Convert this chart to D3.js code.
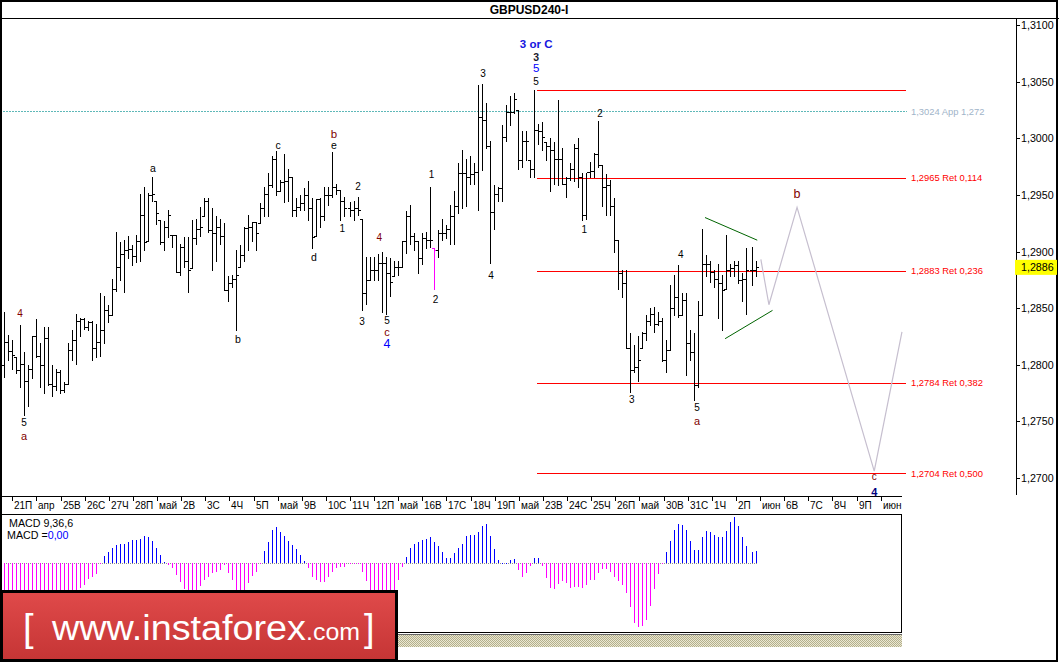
<!DOCTYPE html>
<html>
<head>
<meta charset="utf-8">
<script src="https://cdnjs.cloudflare.com/ajax/libs/d3/7.8.5/d3.min.js"></script>
<style>
  body { margin: 0; background: #fff; }
  text { font-family: "Liberation Sans", Arial, sans-serif; }
</style>
</head>
<body>
<div id="chart"></div>
<script>
'use strict';

// GBPUSD H4 bars (high / low / close), open = previous close
var highs = [
  1.2847,1.2826,1.2822,1.2807,1.2835,1.2811,1.2800,1.2825,1.2840,1.2819,
  1.2833,1.2833,1.2800,1.2796,1.2795,1.2785,1.2819,1.2831,1.2845,1.2841,
  1.2841,1.2839,1.2839,1.2836,1.2863,1.2861,1.2853,1.2876,1.2917,1.2908,
  1.2910,1.2914,1.2906,1.2915,1.2951,1.2957,1.2952,1.2966,1.2945,1.2928,
  1.2927,1.2937,1.2915,1.2915,1.2907,1.2913,1.2913,1.2928,1.2929,1.2939,
  1.2947,1.2947,1.2938,1.2931,1.2929,1.2925,1.2878,1.2879,1.2901,1.2906,
  1.2922,1.2932,1.2926,1.2926,1.2943,1.2957,1.2969,1.2984,1.2989,1.2963,
  1.2986,1.2973,1.2966,1.2947,1.2950,1.2956,1.2962,1.2947,1.2946,1.2947,
  1.2957,1.2957,1.2988,1.2960,1.2954,1.2948,1.2944,1.2945,1.2948,1.2929,
  1.2895,1.2895,1.2895,1.2898,1.2900,1.2895,1.2894,1.2892,1.2892,1.2909,
  1.2936,1.2941,1.2916,1.2909,1.2916,1.2917,1.2957,1.2903,1.2919,1.2929,
  1.2923,1.2941,1.2953,1.2978,1.2990,1.2982,1.2984,1.2978,1.3047,1.3048,
  1.3031,1.2998,1.2959,1.2957,1.3012,1.3029,1.3037,1.3040,1.3025,1.3006,
  1.3006,1.2981,1.3043,1.3013,1.3014,1.2997,1.3000,1.2997,1.3034,1.2991,
  1.2966,1.2978,1.2995,1.3000,1.2969,1.2969,1.2979,1.2987,1.3015,1.2976,
  1.2968,1.2963,1.2947,1.2910,1.2884,1.2884,1.2828,1.2817,1.2825,1.2829,
  1.2844,1.2850,1.2851,1.2847,1.2841,1.2822,1.2870,1.2879,1.2888,1.2863,
  1.2863,1.2831,1.2828,1.2856,1.2920,1.2897,1.2892,1.2884,1.2889,1.2879,
  1.2915,1.2889,1.2892,1.2892,1.2881,1.2903,1.2904,1.2892
];
var lows = [
  1.2789,1.2804,1.2796,1.2793,1.2780,1.2756,1.2764,1.2788,1.2807,1.2780,
  1.2775,1.2782,1.2772,1.2778,1.2775,1.2776,1.2783,1.2804,1.2801,1.2825,
  1.2832,1.2831,1.2804,1.2807,1.2808,1.2819,1.2838,1.2844,1.2865,1.2875,
  1.2864,1.2894,1.2888,1.2891,1.2892,1.2901,1.2909,1.2945,1.2924,1.2907,
  1.2901,1.2913,1.2904,1.2882,1.2879,1.2886,1.2864,1.2885,1.2907,1.2914,
  1.2931,1.2917,1.2884,1.2892,1.2907,1.2866,1.2856,1.2869,1.2831,1.2886,
  1.2892,1.2901,1.2909,1.2901,1.2925,1.2931,1.2931,1.2957,1.2950,1.2953,
  1.2944,1.2945,1.2931,1.2931,1.2937,1.2937,1.2928,1.2903,1.2914,1.2922,
  1.2928,1.2941,1.2948,1.2951,1.2928,1.2931,1.2931,1.2928,1.2932,1.2848,
  1.2854,1.2875,1.2875,1.2875,1.2847,1.2845,1.2861,1.2878,1.2879,1.2886,
  1.2899,1.2907,1.2901,1.2881,1.2889,1.2903,1.2904,1.2867,1.2895,1.2910,
  1.2912,1.2907,1.2907,1.2934,1.2938,1.2940,1.2960,1.2960,1.2937,1.2972,
  1.2991,1.2890,1.2920,1.2945,1.2945,1.2998,1.3012,1.3022,1.2973,1.2975,
  1.2981,1.2966,1.2966,1.2995,1.2990,1.2981,1.2953,1.2960,1.2959,1.2960,
  1.2948,1.2963,1.2962,1.2957,1.2928,1.2929,1.2966,1.2966,1.2975,1.2940,
  1.2932,1.2932,1.2900,1.2867,1.2860,1.2815,1.2776,1.2794,1.2786,1.2815,
  1.2822,1.2835,1.2829,1.2835,1.2803,1.2794,1.2813,1.2844,1.2842,1.2844,
  1.2791,1.2804,1.2769,1.2780,1.2844,1.2878,1.2873,1.2869,1.2841,1.2831,
  1.2867,1.2878,1.2878,1.2872,1.2856,1.2845,1.2870,1.2878
];
var closes = [
  1.2820,1.2812,1.2809,1.2795,1.2801,1.2786,1.2796,1.2825,1.2808,1.2800,
  1.2824,1.2783,1.2781,1.2794,1.2778,1.2783,1.2813,1.2822,1.2839,1.2840,
  1.2833,1.2838,1.2815,1.2820,1.2831,1.2848,1.2844,1.2867,1.2886,1.2898,
  1.2901,1.2902,1.2896,1.2909,1.2932,1.2908,1.2950,1.2951,1.2934,1.2908,
  1.2922,1.2932,1.2915,1.2882,1.2904,1.2892,1.2884,1.2912,1.2920,1.2922,
  1.2945,1.2919,1.2916,1.2922,1.2914,1.2866,1.2872,1.2876,1.2879,1.2897,
  1.2921,1.2922,1.2926,1.2916,1.2938,1.2951,1.2959,1.2982,1.2953,1.2961,
  1.2962,1.2966,1.2937,1.2939,1.2943,1.2950,1.2938,1.2913,1.2946,1.2931,
  1.2950,1.2950,1.2957,1.2954,1.2945,1.2938,1.2937,1.2938,1.2937,1.2863,
  1.2875,1.2884,1.2884,1.2890,1.2890,1.2881,1.2873,1.2886,1.2886,1.2909,
  1.2931,1.2914,1.2909,1.2894,1.2912,1.2910,1.2910,1.2901,1.2916,1.2916,
  1.2920,1.2931,1.2940,1.2969,1.2969,1.2966,1.2968,1.2970,1.3019,1.3016,
  1.2993,1.2935,1.2951,1.2956,1.3001,1.3023,1.3023,1.3035,1.2981,1.2998,
  1.2998,1.2973,1.3007,1.3006,1.3001,1.2993,1.2990,1.2982,1.2982,1.2960,
  1.2965,1.2973,1.2991,1.2966,1.2932,1.2970,1.2971,1.2986,1.2976,1.2957,
  1.2959,1.2940,1.2910,1.2881,1.2872,1.2815,1.2795,1.2798,1.2804,1.2828,
  1.2839,1.2845,1.2836,1.2839,1.2804,1.2813,1.2850,1.2860,1.2844,1.2857,
  1.2819,1.2811,1.2782,1.2844,1.2889,1.2889,1.2882,1.2876,1.2872,1.2866,
  1.2884,1.2885,1.2888,1.2875,1.2876,1.2884,1.2884,1.2886
];
var firstOpen = 1.2800;
var markedBar = 107;

// MACD(9,36,6) histogram, pips
var macd = [
  -17,-16.5,-17,-17.5,-18,-18.5,-19,-19,-18.5,-18,-17.5,-17,-16.5,-16.5,-16,-15.5,-15,-14.5,-14,
  -13,-11.2,-8.3,-7.3,-5.6,-0.3,
  3.6,5.9,7.5,9.2,10,10,10.8,11.7,11.7,12.5,13.7,13.4,11.2,8,4,0.7,
  -0.8,-2.7,-6.3,-10,-13.4,-14.5,-15,-14.5,-12,-8.6,-7.3,-5.3,-4.4,-3.6,-1,
  -5.3,-8.6,-13.7,-15,-15,-10.3,-6.9,-4.4,-0.3,
  6.3,10.8,17,18.4,15.9,13.7,11.4,9.2,7,4,1.2,
  -2.7,-7.3,-9,-10,-10,-7.3,-4.4,-2.7,-1.9,-1.9,-0.2,-0.2,-0.2,
  -4.4,-9.5,-13.7,-15,-15.5,-15.5,-15,-14.5,-14,-8.6,-2.2,
  3.2,7.5,9.7,10.8,11.7,12.5,13.4,10.8,8.6,5.8,2.4,2.4,5.3,8,10,13.7,14.7,14.7,15.9,19.3,
  20.1,14.2,7,1.5,0.2,0.2,1.5,2.2,-3.6,
  -7,-5,-1.6,2.4,2.4,-1.6,-7.9,-12.7,-13.4,-10.9,-9.3,-10.2,-12.7,-12.6,-12.2,-12.7,-11.4,-8.8,
  -8.8,-5,-3.1,-3.1,-4.5,-7,-9.1,-11.4,-15.3,-22.5,-30.8,-33.2,-32.5,-29.4,-22.2,-13.6,-5.7,-0.5,
  5.7,11.4,17,20.1,19.6,17,11.4,6.7,6.7,13.3,16.5,15.8,14.5,13.3,13.3,16.5,21.2,23.6,19.1,13.4,
  8.8,5.7,6.2
];

var dayLabels = ["21П","апр","25В","26С","27Ч","28П","май","2В","3С","4Ч","5П","май","9В",
  "10С","11Ч","12П","май","16В","17С","18Ч","19П","май","23В","24С","25Ч","26П","май",
  "30В","31С","1Ч","2П","июн","6В","7С","8Ч","9П","июн"];
var priceTicks = [1.2700,1.2750,1.2800,1.2850,1.2900,1.2950,1.3000,1.3050,1.3100];
var lastPrice = 1.2886;

var fibLevels = [1.3043, 1.2965, 1.2883, 1.2784, 1.2704];
var fibTexts = ["", "1,2965 Ret 0,114", "1,2883 Ret 0,236", "1,2784 Ret 0,382", "1,2704 Ret 0,500"];
var appLevel = 1.3024;
var appText = "1,3024 App 1,272";
var fibFrom = 132.5, fibTo = 224.3;

// forecast zigzag and triangle
var pathBars = [188.2, 190.2, 197.2, 216.4, 223.3];
var pathPrices = [1.2893, 1.2853, 1.2939, 1.2706, 1.2829];
var triTopBars = [174.3, 187.3], triTopPrices = [1.2930, 1.2910];
var triLowBars = [179.3, 191.1], triLowPrices = [1.2823, 1.2848];

var waveLabels = [
  {i: 3.9, p: 1.2845, t: "4", c: "#800000", s: 10},
  {i: 4.9, p: 1.2749, t: "5", c: "#000", s: 10},
  {i: 4.9, p: 1.2737, t: "a", c: "#800000", s: 11},
  {i: 37.0, p: 1.2974, t: "a", c: "#000", s: 10.5},
  {i: 58.1, p: 1.2823, t: "b", c: "#000", s: 10.5},
  {i: 68.1, p: 1.2994, t: "c", c: "#000", s: 10.5},
  {i: 77.0, p: 1.2895, t: "d", c: "#000", s: 10.5},
  {i: 82.0, p: 1.3004, t: "b", c: "#800000", s: 11.5},
  {i: 82.0, p: 1.2994, t: "e", c: "#000", s: 10.5},
  {i: 84.1, p: 1.2920, t: "1", c: "#000", s: 10},
  {i: 88.0, p: 1.2957, t: "2", c: "#000", s: 10},
  {i: 89.0, p: 1.2838, t: "3", c: "#000", s: 10},
  {i: 93.3, p: 1.2912, t: "4", c: "#800000", s: 10},
  {i: 95.2, p: 1.2839, t: "5", c: "#000", s: 10},
  {i: 95.2, p: 1.2829, t: "c", c: "#800000", s: 11},
  {i: 95.2, p: 1.2818, t: "4", c: "#0000ff", s: 12.5},
  {i: 106.3, p: 1.2968, t: "1", c: "#000", s: 10},
  {i: 107.3, p: 1.2858, t: "2", c: "#000", s: 10},
  {i: 119.1, p: 1.3057, t: "3", c: "#000", s: 10},
  {i: 121.1, p: 1.2879, t: "4", c: "#000", s: 10},
  {i: 132.3, p: 1.3083, t: "3 or C", c: "#1515e0", s: 11.5, b: true},
  {i: 132.3, p: 1.3072, t: "3", c: "#1a1a2e", s: 10.5, b: true},
  {i: 132.3, p: 1.3062, t: "5", c: "#0000ff", s: 11.5},
  {i: 132.3, p: 1.3050, t: "5", c: "#000", s: 10},
  {i: 144.3, p: 1.2919, t: "1", c: "#000", s: 10},
  {i: 148.2, p: 1.3022, t: "2", c: "#000", s: 10},
  {i: 156.1, p: 1.2769, t: "3", c: "#000", s: 10},
  {i: 168.3, p: 1.2897, t: "4", c: "#000", s: 10},
  {i: 172.3, p: 1.2762, t: "5", c: "#000", s: 10},
  {i: 172.3, p: 1.2750, t: "a", c: "#800000", s: 11},
  {i: 197.2, p: 1.2951, t: "b", c: "#800000", s: 12.5},
  {i: 216.4, p: 1.2701, t: "c", c: "#800000", s: 10},
  {i: 216.4, p: 1.2688, t: "4", c: "#000080", s: 11, b: true}
];

var W = 1059, H = 662;
var svg = d3.select("#chart").append("svg")
  .attr("width", W)
  .attr("height", H);

var defs = svg.append("defs");
var pat = defs.append("pattern").attr("id", "hatch")
  .attr("width", 2).attr("height", 2).attr("patternUnits", "userSpaceOnUse");
pat.append("rect").attr("width", 2).attr("height", 2).attr("fill", "#ebe8d2");
pat.append("rect").attr("width", 1).attr("height", 1).attr("fill", "#b3af8d");
pat.append("rect").attr("x", 1).attr("y", 1).attr("width", 1).attr("height", 1).attr("fill", "#b3af8d");
var grad = defs.append("linearGradient").attr("id", "logoGrad")
  .attr("x1", 0).attr("y1", 0).attr("x2", 0).attr("y2", 1);
grad.append("stop").attr("offset", "0%").attr("stop-color", "#e04a4a");
grad.append("stop").attr("offset", "100%").attr("stop-color", "#c53535");

// Scales
var x = d3.scaleLinear().domain([0, 224]).range([4.3, 4.3 + 224 * 4.02]);
var y = d3.scaleLinear().domain([1.27, 1.31]).range([478, 25]);
var ym = d3.scaleLinear().domain([-35.6, 25.3]).range([632, 514]);
// bars sit on even pixel columns
var bx = function(i) { return 2 * Math.floor(x(i) / 2) };
var px = function(i) { return Math.round(x(i)) + 0.5 };
var py = function(p) { return Math.round(y(p)) + 0.5 };

var g = svg.append("g").attr("shape-rendering", "crispEdges");

// Frames
svg.append("rect").attr("x", 1).attr("y", 1).attr("width", W - 3).attr("height", H - 2)
  .attr("fill", "none").attr("stroke", "#000").attr("stroke-width", 2);
g.append("line").attr("x1", 0).attr("x2", W).attr("y1", 18.5).attr("y2", 18.5)
  .attr("stroke", "#000").attr("stroke-width", 1.5);
svg.append("text").attr("x", 529).attr("y", 10).attr("text-anchor", "middle")
  .attr("dominant-baseline", "central").attr("font-weight", "bold").attr("font-size", 12)
  .text("GBPUSD240-I");

// Price axis
g.append("line").attr("x1", 1016.5).attr("x2", 1016.5).attr("y1", 18).attr("y2", 495)
  .attr("stroke", "#000");
priceTicks.forEach(function(t) {
  g.append("line").attr("x1", 1016).attr("x2", 1020).attr("y1", py(t)).attr("y2", py(t))
    .attr("stroke", "#000");
  svg.append("text").attr("x", 1021).attr("y", y(t)).attr("dominant-baseline", "central")
    .attr("font-size", 10.7).text(d3.format(".4f")(t).replace(".", ","));
});
svg.append("rect").attr("x", 1015).attr("y", y(lastPrice) - 7.5).attr("width", 42).attr("height", 15)
  .attr("fill", "#ffff00");
svg.append("text").attr("x", 1021).attr("y", y(lastPrice)).attr("dominant-baseline", "central")
  .attr("font-size", 10.7).text(d3.format(".4f")(lastPrice).replace(".", ","));

// Fibonacci levels
g.append("line").attr("x1", 0).attr("x2", px(fibTo)).attr("y1", py(appLevel)).attr("y2", py(appLevel))
  .attr("stroke", "#5fb8b8").attr("stroke-dasharray", "2,1");
svg.append("text").attr("x", x(fibTo) + 5).attr("y", y(appLevel)).attr("dominant-baseline", "central")
  .attr("font-size", 9.4).attr("fill", "#9fb4c9").text(appText);
fibLevels.forEach(function(f, k) {
  g.append("rect").attr("x", Math.round(x(fibFrom))).attr("y", Math.round(y(f)))
    .attr("width", Math.round(x(fibTo)) - Math.round(x(fibFrom))).attr("height", 1)
    .attr("fill", "#ff0000");
  if (fibTexts[k]) {
    svg.append("text").attr("x", x(fibTo) + 5).attr("y", y(f)).attr("dominant-baseline", "central")
      .attr("font-size", 9.4).attr("fill", "#ff0000").text(fibTexts[k]);
  }
});

// OHLC bars
var bars = closes.map(function(c, i) {
  var o = i === 0 ? firstOpen : closes[i - 1];
  o = Math.max(lows[i], Math.min(highs[i], o));
  return {i: i, o: o, h: highs[i], l: lows[i], c: c};
});
var bar = g.selectAll(".bar").data(bars).enter().append("g")
  .attr("stroke", function(d) { return d.i === markedBar ? "#ff00ff" : "#000" });
bar.append("line")
  .attr("x1", function(d) { return bx(d.i) + 0.5 }).attr("x2", function(d) { return bx(d.i) + 0.5 })
  .attr("y1", function(d) { return Math.round(y(d.h)) }).attr("y2", function(d) { return Math.round(y(d.l)) + 1 });
bar.append("line")
  .attr("x1", function(d) { return bx(d.i) - 2 }).attr("x2", function(d) { return bx(d.i) + 0.5 })
  .attr("y1", function(d) { return py(d.o) }).attr("y2", function(d) { return py(d.o) });
bar.append("line")
  .attr("x1", function(d) { return bx(d.i) + 0.5 }).attr("x2", function(d) { return bx(d.i) + 3 })
  .attr("y1", function(d) { return py(d.c) }).attr("y2", function(d) { return py(d.c) });

// Triangle + forecast path
var line = d3.line()
  .x(function(d) { return x(d[0]) })
  .y(function(d) { return y(d[1]) });
svg.append("path").datum(d3.zip(triTopBars, triTopPrices)).attr("d", line)
  .attr("fill", "none").attr("stroke", "#006400");
svg.append("path").datum(d3.zip(triLowBars, triLowPrices)).attr("d", line)
  .attr("fill", "none").attr("stroke", "#006400");
svg.append("path").datum(d3.zip(pathBars, pathPrices)).attr("d", line)
  .attr("fill", "none").attr("stroke", "#c6bfcf").attr("stroke-width", 1.2);

// Wave labels
svg.selectAll(".wave").data(waveLabels).enter().append("text")
  .attr("x", function(d) { return x(d.i) })
  .attr("y", function(d) { return y(d.p) })
  .attr("text-anchor", "middle").attr("dominant-baseline", "central")
  .attr("font-size", function(d) { return d.s })
  .attr("font-weight", function(d) { return d.b ? "bold" : "normal" })
  .attr("fill", function(d) { return d.c })
  .text(function(d) { return d.t });

// Time axis
g.append("line").attr("x1", 0).attr("x2", 902).attr("y1", 496.5).attr("y2", 496.5)
  .attr("stroke", "#000").attr("stroke-width", 1.5);
dayLabels.forEach(function(lab, k) {
  var tx = px(2 + 6 * k);
  g.append("line").attr("x1", tx).attr("x2", tx).attr("y1", 497).attr("y2", 501).attr("stroke", "#000");
  svg.append("text").attr("x", tx + 1.5).attr("y", 505.5).attr("dominant-baseline", "central")
    .attr("font-size", 10).text(lab);
});

// MACD panel
g.append("rect").attr("x", 0.5).attr("y", 514.5).attr("width", 901).attr("height", 118)
  .attr("fill", "none").attr("stroke", "#000").attr("stroke-width", 1.5);
var zeroY = Math.round(ym(0));
g.append("line").attr("x1", bx(0)).attr("x2", bx(macd.length - 1) + 1)
  .attr("y1", zeroY + 0.5).attr("y2", zeroY + 0.5)
  .attr("stroke", "#909090").attr("stroke-dasharray", "1,1");
g.selectAll(".macd").data(macd).enter().append("rect")
  .attr("x", function(d, i) { return bx(i) })
  .attr("width", 1)
  .attr("y", function(d) { return d >= 0 ? Math.round(ym(d)) : zeroY })
  .attr("height", function(d) { return Math.max(1, Math.abs(Math.round(ym(d)) - zeroY)) })
  .attr("fill", function(d) { return d >= 0 ? "#0000ff" : "#ff00ff" });
svg.append("text").attr("x", 9).attr("y", 523).attr("dominant-baseline", "central")
  .attr("font-size", 10.7).text("MACD 9,36,6");
var mt = svg.append("text").attr("x", 7).attr("y", 535).attr("dominant-baseline", "central")
  .attr("font-size", 10.7);
mt.append("tspan").text("MACD =");
mt.append("tspan").attr("fill", "#0000ff").text("0,00");

// hatched strip below the indicator
g.append("line").attr("x1", 0).attr("x2", 902).attr("y1", 634.5).attr("y2", 634.5).attr("stroke", "#666");
g.append("rect").attr("x", 0).attr("y", 635).attr("width", 902).attr("height", 12).attr("fill", "url(#hatch)");

// Logo
var logo = svg.append("g");
logo.append("rect").attr("x", 1.5).attr("y", 591.5).attr("width", 395).attr("height", 69)
  .attr("fill", "url(#logoGrad)").attr("stroke", "#000").attr("stroke-width", 3);
logo.append("text").attr("x", 23).attr("y", 641).attr("font-family", "'Open Sans', sans-serif")
  .attr("font-size", 38).attr("fill", "#fff").text("[");
logo.append("text").attr("x", 52).attr("y", 640).attr("font-family", "'Open Sans', sans-serif")
  .attr("font-size", 35).attr("fill", "#fff").attr("textLength", 254).attr("lengthAdjust", "spacingAndGlyphs")
  .text("www.instaforex");
logo.append("text").attr("x", 306).attr("y", 640).attr("font-family", "'Open Sans', sans-serif")
  .attr("font-size", 24).attr("fill", "#fff").attr("textLength", 54).attr("lengthAdjust", "spacingAndGlyphs")
  .text(".com");
logo.append("text").attr("x", 364).attr("y", 641).attr("font-family", "'Open Sans', sans-serif")
  .attr("font-size", 38).attr("fill", "#fff").text("]");
</script>
</body>
</html>
